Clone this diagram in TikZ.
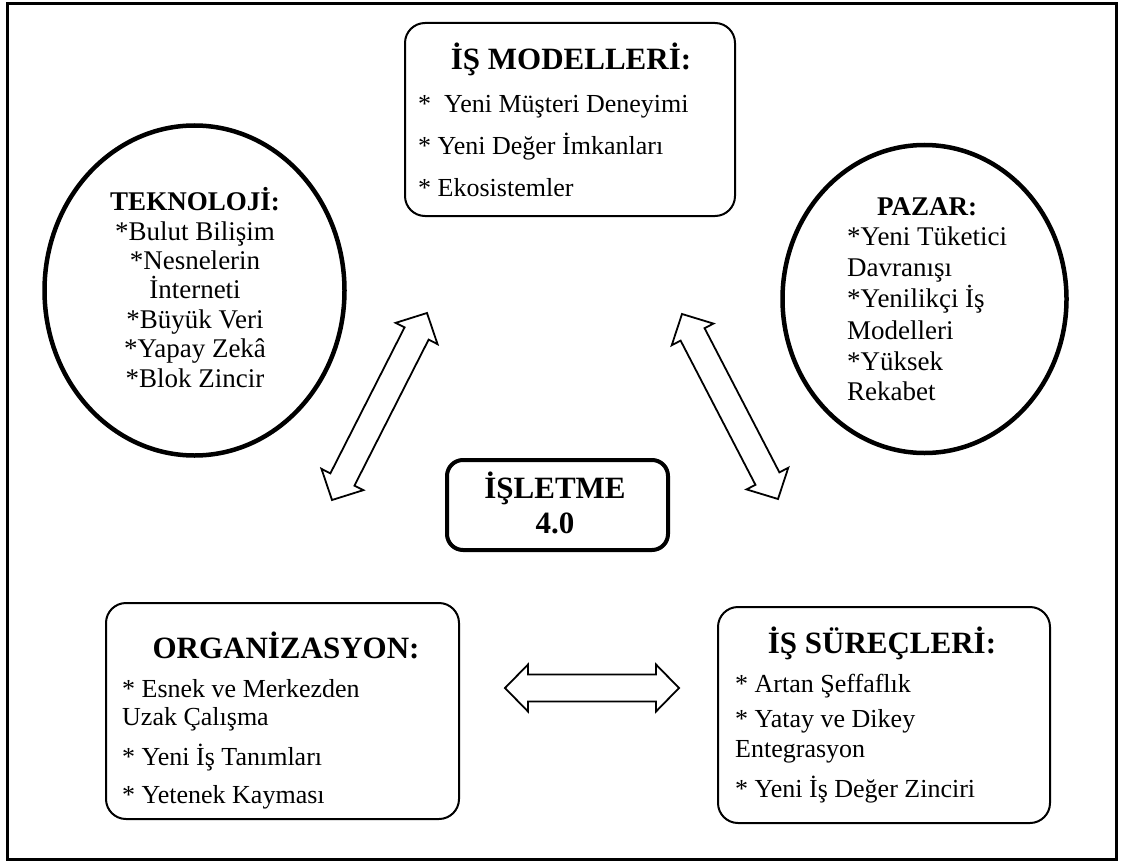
\documentclass[tikz,border=0pt]{standalone}
\usepackage{fontspec}
\setmainfont{Liberation Serif}
\usetikzlibrary{calc,shapes.geometric}

\tikzset{
  frame/.style={draw, line width=3pt},
  boxstyle/.style={draw, line width=2pt, rounded corners=20pt, inner sep=0pt, fill=white},
  centerbox/.style={draw, line width=4pt, rounded corners=16pt, inner sep=0pt, fill=white},
  ovalstyle/.style={draw, ellipse, line width=4.5pt, inner sep=0pt},
  titletext/.style={font=\fontsize{31}{34}\selectfont\bfseries, inner sep=0pt, anchor=base},
  itemtext/.style={font=\fontsize{26}{29}\selectfont, inner sep=0pt, anchor=base west},
  ovalitem/.style={font=\fontsize{27}{30}\selectfont, inner sep=0pt, anchor=base west},
  ovaltitle/.style={font=\fontsize{27}{30}\selectfont\bfseries, inner sep=0pt, anchor=base},
  ovaltext/.style={font=\fontsize{27}{30}\selectfont, inner sep=0pt, anchor=base},
  arrowbody/.style={draw, line width=1.8pt, fill=white, line join=miter},
}

\newcommand\blockarrow[2]{%
  \path ($(#1)!23pt!(#2)$) coordinate (ba1) ($(#2)!23pt!(#1)$) coordinate (ba2);
  \draw[arrowbody] (#1) -- ($(ba1)!23.5pt!90:(#1)$) -- ($(ba1)!13.5pt!90:(#1)$)
    -- ($(ba2)!13.5pt!-90:(#2)$) -- ($(ba2)!23.5pt!-90:(#2)$) -- (#2)
    -- ($(ba2)!23.5pt!90:(#2)$) -- ($(ba2)!13.5pt!90:(#2)$)
    -- ($(ba1)!13.5pt!-90:(#1)$) -- ($(ba1)!23.5pt!-90:(#1)$) -- cycle;
}

\begin{document}
\begin{tikzpicture}[x=1pt, y=-1pt]
\useasboundingbox (0,0) rectangle (1123,861);
\fill[white] (0,0) rectangle (1123,861);
\draw[frame] (7,4) rectangle (1116,859.5);

% boxes
\node[boxstyle, minimum width=330pt, minimum height=193pt] (models) at (570,119.5) {};
\node[centerbox, minimum width=221pt, minimum height=90pt] (core) at (557.5,505) {};
\node[boxstyle, minimum width=353pt, minimum height=216pt] (org) at (282.5,711) {};
\node[boxstyle, minimum width=332pt, minimum height=216pt] (proc) at (884,715) {};

% ellipses
\node[ovalstyle, minimum width=300pt, minimum height=330pt] (tech) at (194.5,290.5) {};
\node[ovalstyle, minimum width=284pt, minimum height=308pt] (market) at (924.5,299) {};

% models text
\node[titletext] (modelsT) at (571,70) {İŞ MODELLERİ:};
\node[itemtext] (m1) at (418,113) {*~ Yeni Müşteri Deneyimi};
\node[itemtext] (m2) at (418,155) {* Yeni Değer İmkanları};
\node[itemtext] (m3) at (418,196) {* Ekosistemler};

% core text
\node[titletext] (coreA) at (555,498) {İŞLETME};
\node[titletext] (coreB) at (555,533) {4.0};

% org text
\node[titletext] (orgT) at (286,658) {ORGANİZASYON:};
\node[itemtext] (o1) at (122,697) {* Esnek ve Merkezden};
\node[itemtext] (o2) at (122,725) {Uzak Çalışma};
\node[itemtext] (o3) at (122,765) {* Yeni İş Tanımları};
\node[itemtext] (o4) at (122,803) {* Yetenek Kayması};

% process text
\node[titletext] (procT) at (882,653) {İŞ SÜREÇLERİ:};
\node[itemtext] (p1) at (735,692) {* Artan Şeffaflık};
\node[itemtext] (p2) at (735,727) {* Yatay ve Dikey};
\node[itemtext] (p3) at (735,757) {Entegrasyon};
\node[itemtext] (p4) at (735,797) {* Yeni İş Değer Zinciri};

% tech text
\node[ovaltitle] (techT) at (195,210) {TEKNOLOJİ:};
\node[ovaltext] (t1) at (195,240) {*Bulut Bilişim};
\node[ovaltext] (t2) at (195,269) {*Nesnelerin};
\node[ovaltext] (t3) at (195,298) {İnterneti};
\node[ovaltext] (t4) at (195,328) {*Büyük Veri};
\node[ovaltext] (t5) at (195,357) {*Yapay Zekâ};
\node[ovaltext] (t6) at (195,387) {*Blok Zincir};

% market text
\node[ovaltitle] (marketT) at (927,215) {PAZAR:};
\node[ovalitem] (k1) at (847,245) {*Yeni Tüketici};
\node[ovalitem] (k2) at (847,276) {Davranışı};
\node[ovalitem] (k3) at (847,307) {*Yenilikçi İş};
\node[ovalitem] (k4) at (847,339) {Modelleri};
\node[ovalitem] (k5) at (847,370) {*Yüksek};
\node[ovalitem] (k6) at (847,400) {Rekabet};

% arrows
\coordinate (aLa) at (427,313);
\coordinate (aLb) at (332,500);
\coordinate (aRa) at (682,314);
\coordinate (aRb) at (778,499);
\coordinate (aHa) at (505,688);
\coordinate (aHb) at (679,688);
\blockarrow{aLa}{aLb}
\blockarrow{aRa}{aRb}
\blockarrow{aHa}{aHb}
\end{tikzpicture}
\end{document}
